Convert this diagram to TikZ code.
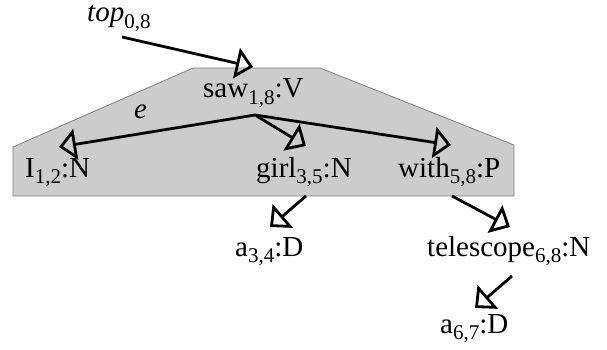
\documentclass[tikz,border=0pt]{standalone}
\usepackage{fontspec}
\setmainfont{Liberation Serif}
\usetikzlibrary{arrows.meta}

% lowered subscript in the text face
\newcommand{\wsub}[1]{\raisebox{-0.22em}{\fontsize{21}{24}\selectfont #1}}

\tikzset{
  lbl/.style={anchor=base west, inner sep=0pt, font=\fontsize{29}{34}\selectfont},
  edgearrow/.style={line width=2.8pt, line cap=butt,
    -{Triangle[open, length=17pt, width=31pt, line width=2.8pt]}},
  region/.style={fill=black!20, draw=black!50, line width=0.8pt}
}

\begin{document}
\begin{tikzpicture}[x=1pt, y=-1pt]
  \useasboundingbox (0,0) rectangle (607,350);

  % shaded region around the top-level predicate and its arguments
  \draw[region] (13,147) -- (193,68) -- (320,68) -- (514,145) -- (514,196) -- (13,196) -- cycle;

  % word nodes
  \node[lbl] (top)  at (87,22)   {\textit{top}\wsub{0,8}};
  \node[lbl] (saw)  at (203,98)  {saw\wsub{1,8}:V};
  \node[lbl] (i12)  at (25,177)  {I\wsub{1,2}:N};
  \node[lbl] (girl) at (256,177) {girl\wsub{3,5}:N};
  \node[lbl] (with) at (398,177) {with\wsub{5,8}:P};
  \node[lbl] (a34)  at (235,256) {a\wsub{3,4}:D};
  \node[lbl] (tel)  at (427,256) {telescope\wsub{6,8}:N};
  \node[lbl] (a67)  at (440,333) {a\wsub{6,7}:D};
  \node[lbl] (elab) at (134,118) {\textit{e}};

  % connector end points
  \coordinate (topout)  at (122,37);
  \coordinate (sawin)   at (253,67);
  \coordinate (hub)     at (255,115);
  \coordinate (i12in)   at (59,147);
  \coordinate (girlin)  at (306,146);
  \coordinate (within)  at (451,145);
  \coordinate (girlout) at (306,196);
  \coordinate (a34in)   at (270,227);
  \coordinate (without) at (452,196);
  \coordinate (telin)   at (510,227);
  \coordinate (telout)  at (512,276);
  \coordinate (a67in)   at (475,308);

  % dependency arrows
  \draw[edgearrow] (topout) -- (sawin);
  \draw[edgearrow] (hub) -- (i12in);
  \draw[edgearrow] (hub) -- (girlin);
  \draw[edgearrow] (hub) -- (within);
  \draw[edgearrow] (girlout) -- (a34in);
  \draw[edgearrow] (without) -- (telin);
  \draw[edgearrow] (telout) -- (a67in);
\end{tikzpicture}
\end{document}
